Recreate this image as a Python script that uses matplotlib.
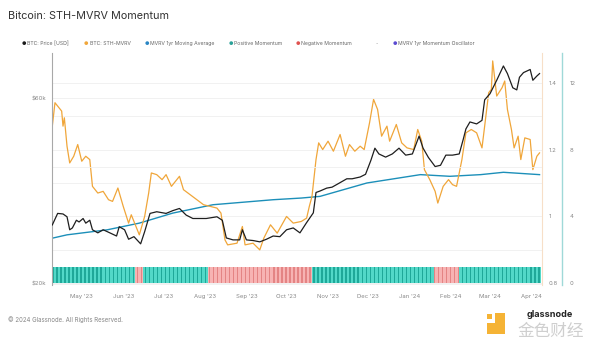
import matplotlib
matplotlib.use("Agg")
import matplotlib.pyplot as plt
import matplotlib.dates as mdates
from matplotlib.patches import Rectangle
import numpy as np
import pandas as pd

plt.rcParams['font.family'] = ['Inter', 'DejaVu Sans']

# ---------------- data ----------------
price_dates = ["2023-04-09", "2023-04-13", "2023-04-17", "2023-04-20", "2023-04-22", "2023-04-24",
               "2023-04-27", "2023-04-29", "2023-05-02", "2023-05-04", "2023-05-07", "2023-05-09",
               "2023-05-13", "2023-05-17", "2023-05-22", "2023-05-27", "2023-05-29", "2023-06-02",
               "2023-06-05", "2023-06-09", "2023-06-14", "2023-06-17", "2023-06-21", "2023-06-26",
               "2023-07-03", "2023-07-08", "2023-07-13", "2023-07-18", "2023-07-23", "2023-08-02",
               "2023-08-10", "2023-08-14", "2023-08-17", "2023-08-22", "2023-08-27", "2023-08-29",
               "2023-09-01", "2023-09-06", "2023-09-11", "2023-09-16", "2023-09-21", "2023-09-26",
               "2023-10-01", "2023-10-06", "2023-10-11", "2023-10-16", "2023-10-21", "2023-10-23",
               "2023-10-26", "2023-10-31", "2023-11-04", "2023-11-09", "2023-11-15", "2023-11-19",
               "2023-11-25", "2023-11-29", "2023-12-03", "2023-12-06", "2023-12-09", "2023-12-14",
               "2023-12-19", "2023-12-24", "2023-12-29", "2024-01-03", "2024-01-08", "2024-01-11",
               "2024-01-15", "2024-01-20", "2024-01-24", "2024-01-28", "2024-02-02", "2024-02-07",
               "2024-02-10", "2024-02-12", "2024-02-15", "2024-02-20", "2024-02-24", "2024-02-26",
               "2024-03-01", "2024-03-06", "2024-03-11", "2024-03-14", "2024-03-18", "2024-03-21",
               "2024-03-23", "2024-03-26", "2024-03-31", "2024-04-02", "2024-04-05", "2024-04-07"]
price_k = [28.3, 30.3, 30.2, 29.7, 27.5, 27.8,
           29.1, 28.8, 29.4, 28.6, 29.1, 27.5,
           27.0, 27.5, 27.0, 26.5, 28.0, 27.5,
           26.0, 26.4, 25.3, 27.2, 30.3, 30.6,
           30.3, 30.8, 31.2, 30.0, 29.4, 29.4,
           29.7, 29.1, 26.2, 25.9, 25.9, 27.5,
           25.9, 25.8, 25.6, 26.0, 26.5, 26.4,
           27.5, 27.8, 27.0, 28.7, 30.4, 34.3,
           34.6, 35.2, 35.4, 36.2, 37.2, 37.2,
           37.6, 38.2, 41.5, 44.6, 43.1, 42.3,
           43.1, 44.6, 42.8, 43.1, 47.9, 44.6,
           42.2, 40.0, 40.3, 42.8, 42.8, 43.1,
           47.0, 50.0, 52.1, 51.5, 52.6, 59.4,
           61.6, 66.7, 72.6, 69.4, 63.8, 63.0,
           67.9, 69.8, 71.1, 66.7, 68.4, 69.4]

mvrv_dates = ["2023-04-09", "2023-04-11", "2023-04-13", "2023-04-16", "2023-04-17", "2023-04-18",
              "2023-04-20", "2023-04-22", "2023-04-25", "2023-04-28", "2023-05-01", "2023-05-04",
              "2023-05-07", "2023-05-09", "2023-05-13", "2023-05-17", "2023-05-21", "2023-05-24",
              "2023-05-28", "2023-06-01", "2023-06-05", "2023-06-07", "2023-06-11", "2023-06-13",
              "2023-06-17", "2023-06-20", "2023-06-22", "2023-06-26", "2023-06-30", "2023-07-03",
              "2023-07-07", "2023-07-13", "2023-07-16", "2023-07-21", "2023-07-26", "2023-07-31",
              "2023-08-05", "2023-08-10", "2023-08-13", "2023-08-16", "2023-08-18", "2023-08-25",
              "2023-08-29", "2023-08-31", "2023-09-06", "2023-09-11", "2023-09-14", "2023-09-19",
              "2023-09-24", "2023-10-01", "2023-10-06", "2023-10-12", "2023-10-16", "2023-10-18",
              "2023-10-20", "2023-10-23", "2023-10-25", "2023-10-28", "2023-11-01", "2023-11-05",
              "2023-11-10", "2023-11-14", "2023-11-17", "2023-11-21", "2023-11-25", "2023-11-28",
              "2023-12-02", "2023-12-05", "2023-12-08", "2023-12-11", "2023-12-15", "2023-12-17",
              "2023-12-22", "2023-12-26", "2023-12-30", "2024-01-04", "2024-01-07", "2024-01-10",
              "2024-01-12", "2024-01-16", "2024-01-20", "2024-01-22", "2024-01-26", "2024-01-30",
              "2024-02-02", "2024-02-05", "2024-02-09", "2024-02-12", "2024-02-16", "2024-02-20",
              "2024-02-24", "2024-02-26", "2024-02-29", "2024-03-02", "2024-03-03", "2024-03-06",
              "2024-03-10", "2024-03-12", "2024-03-14", "2024-03-17", "2024-03-19", "2024-03-22",
              "2024-03-24", "2024-03-27", "2024-03-31", "2024-04-02", "2024-04-05", "2024-04-07"]
mvrv_vals = [1.27, 1.34, 1.33, 1.315, 1.27, 1.295,
             1.21, 1.16, 1.18, 1.215, 1.165, 1.18,
             1.17, 1.09, 1.07, 1.075, 1.05, 1.045,
             1.085, 1.03, 0.98, 1.005, 0.965, 0.945,
             1.0, 1.07, 1.13, 1.125, 1.11, 1.125,
             1.09, 1.12, 1.08, 1.065, 1.05, 1.035,
             1.03, 1.025, 1.01, 0.93, 0.915, 0.92,
             0.97, 0.915, 0.92, 0.90, 0.935, 0.975,
             0.95, 1.0, 0.98, 0.985, 0.995, 1.03,
             1.06, 1.17, 1.22, 1.20, 1.225, 1.195,
             1.245, 1.18, 1.215, 1.195, 1.21, 1.20,
             1.28, 1.35, 1.32, 1.24, 1.27, 1.225,
             1.275, 1.22, 1.205, 1.20, 1.26, 1.225,
             1.14, 1.11, 1.075, 1.04, 1.09, 1.11,
             1.095, 1.09, 1.17, 1.25, 1.26, 1.25,
             1.205, 1.27, 1.37, 1.38, 1.465, 1.36,
             1.385, 1.405, 1.32, 1.26, 1.205, 1.24,
             1.17, 1.235, 1.23, 1.14, 1.18, 1.19]

ma_dates = ["2023-04-09", "2023-04-20", "2023-05-20", "2023-06-13", "2023-07-08", "2023-08-07",
            "2023-09-21", "2023-10-12", "2023-10-26", "2023-11-30", "2024-01-09", "2024-01-31",
            "2024-02-23", "2024-03-11", "2024-04-07"]
ma_vals = [0.935, 0.945, 0.96, 0.98, 1.01, 1.035,
           1.05, 1.055, 1.06, 1.10, 1.125, 1.12,
           1.125, 1.132, 1.125]

# momentum sign periods (1 = positive, -1 = negative), indicator level 1
momentum_periods = [("2023-04-09", "2023-06-09", 1),
                    ("2023-06-10", "2023-06-15", -1),
                    ("2023-06-16", "2023-08-02", 1),
                    ("2023-08-03", "2023-10-19", -1),
                    ("2023-10-20", "2024-01-18", 1),
                    ("2024-01-19", "2024-02-06", -1),
                    ("2024-02-07", "2024-04-07", 1)]
momentum_level = 1.0

price_ticks = [20000, 40000, 60000]
price_ticklabels = ["$20k", "", "$60k"]
mvrv_ticks = [0.8, 1.0, 1.2, 1.4]
mvrv_ticklabels = ["0.8", "1", "1.2", "1.4"]
osc_ticks = [0, 4, 8, 12]
osc_ticklabels = ["0", "4", "8", "12"]

legend_items = [("BTC: Price [USD]", "#1a1a1a"),
                ("BTC: STH-MVRV", "#f0a63a"),
                ("MVRV 1yr Moving Average", "#2a86c4"),
                ("Positive Momentum", "#2aa198"),
                ("Negative Momentum", "#e0524f"),
                ("-", None),
                ("MVRV 1yr Momentum Oscillator", "#5b4bd1")]

# ---------------- figure ----------------
W, H = 600, 345
fig = plt.figure(figsize=(6, 3.45), dpi=100)
fig.patch.set_facecolor("white")

rect = [52.3 / W, 1 - 285 / H, 490.2 / W, 232 / H]
ax = fig.add_axes(rect)           # price (log, left)
ax_m = ax.twinx()                 # STH-MVRV (right)
ax_o = ax.twinx()                 # oscillator (right, offset)

ax_o.set_zorder(1)
ax_m.set_zorder(2)
ax.set_zorder(3)
for a in (ax, ax_m):
    a.patch.set_visible(False)
ax_o.patch.set_facecolor("white")

pdates = pd.to_datetime(price_dates)
mdates_ = pd.to_datetime(mvrv_dates)
adates = pd.to_datetime(ma_dates)

# momentum bars
bar_days, bar_cols = [], []
i = 0
for start, end, sign in momentum_periods:
    for d in pd.date_range(start, end, freq="D"):
        bar_days.append(d)
        if sign > 0:
            bar_cols.append("#1fa899" if i % 3 == 0 else "#52d8c8")
        else:
            bar_cols.append("#e48484" if i % 3 == 0 else "#f7b3b3")
        i += 1
ax_o.bar(bar_days, [momentum_level] * len(bar_days), width=1.0, bottom=0,
         align="edge", color=bar_cols, linewidth=0, zorder=2)

ax_m.plot(adates, ma_vals, color="#1c8fb9", lw=1.0, zorder=3)
ax_m.plot(mdates_, mvrv_vals, color="#f0a63a", lw=0.9, zorder=4)
ax.plot(pdates, np.array(price_k) * 1000, color="#1e1e1e", lw=0.9, zorder=5)

# scales
ax.set_xlim(pd.Timestamp("2023-04-09"), pd.Timestamp("2024-04-09 05:00"))
ax.set_yscale("log")
ax.set_ylim(19823, 78400)
ax_m.set_ylim(0.795, 1.4887)
ax_o.set_ylim(-0.10, 13.77)

# grid on the bottom axes
ax_o.set_yticks(osc_ticks)
ax_o.set_yticklabels(osc_ticklabels)
ax_o.set_yticks([2, 6, 10], minor=True)
ax_o.set_axisbelow(True)
ax_o.grid(True, which="both", axis="y", color="#efefef", lw=0.6)
ax.set_yticks(price_ticks)
ax.set_yticklabels(price_ticklabels)
ax.yaxis.set_minor_locator(matplotlib.ticker.NullLocator())
ax.grid(True, axis="y", color="#efefef", lw=0.6)
ax_m.set_yticks(mvrv_ticks)
ax_m.set_yticklabels(mvrv_ticklabels)

# x ticks
ax.xaxis.set_major_locator(mdates.MonthLocator())
ax.xaxis.set_major_formatter(mdates.DateFormatter("%b '%y"))
ax.tick_params(axis="x", length=0, pad=6.5, labelsize=4.3, colors="#888888")
ax.tick_params(axis="y", length=0, pad=4.3, labelsize=4.3, colors="#888888")
ax_m.tick_params(axis="y", length=0, pad=4.5, labelsize=4.3, colors="#888888")
ax_o.tick_params(axis="y", which="both", length=0, pad=5.0, labelsize=4.3, colors="#888888")

# spines
for a in (ax, ax_m, ax_o):
    for s in ("top", "bottom"):
        a.spines[s].set_visible(False)
ax.spines["right"].set_visible(False)
ax.spines["left"].set_color("#a8a8a8")
ax.spines["left"].set_linewidth(0.8)
ax_m.spines["left"].set_visible(False)
ax_m.spines["right"].set_color("#f7dfc8")
ax_m.spines["right"].set_linewidth(0.8)
ax_o.spines["left"].set_visible(False)
ax_o.spines["right"].set_position(("outward", 14.4))
ax_o.spines["right"].set_color("#9fd9d8")
ax_o.spines["right"].set_linewidth(1.0)

# title, legend, footer
fig.text(8 / W, 1 - 16 / H, "Bitcoin: STH-MVRV Momentum", fontsize=7.8,
         color="#333333", va="center", ha="left")
leg_x = [24, 86, 146.5, 230.5, 297.5, 377, 394.5]
for (lab, col), x in zip(legend_items, leg_x):
    y = 1 - 43.5 / H
    if col is None:
        fig.text(x / W, y, lab, fontsize=3.7, color="#999999", va="center", ha="center")
    else:
        fig.text(x / W, y, "\u25CF", fontsize=3.6, color=col, va="center", ha="center")
        fig.text((x + 3.5) / W, y, lab, fontsize=3.7, color="#666666", va="center", ha="left")

fig.text(8 / W, 1 - 320 / H, "\u00A9 2024 Glassnode. All Rights Reserved.", fontsize=4.4,
         color="#888888", va="center", ha="left")

# watermark
for (x0, y0, w, h) in [(487, 314, 5, 5), (495, 313, 10, 21), (487, 323, 18, 11)]:
    fig.patches.append(Rectangle((x0 / W, 1 - (y0 + h) / H), w / W, h / H,
                                 transform=fig.transFigure, facecolor="#f5b335",
                                 edgecolor="none", zorder=10))
fig.text(551 / W, 1 - 331 / H, "金色财经", fontsize=12, color="#cfcfcf",
         family=["Noto Sans CJK SC", "DejaVu Sans"], va="center", ha="center", zorder=11)
fig.text(550 / W, 1 - 314.5 / H, "glassnode", fontsize=6.5, color="#222222",
         fontweight="bold", va="center", ha="center", zorder=12)

fig.savefig("out.png", dpi=100, facecolor="white")
